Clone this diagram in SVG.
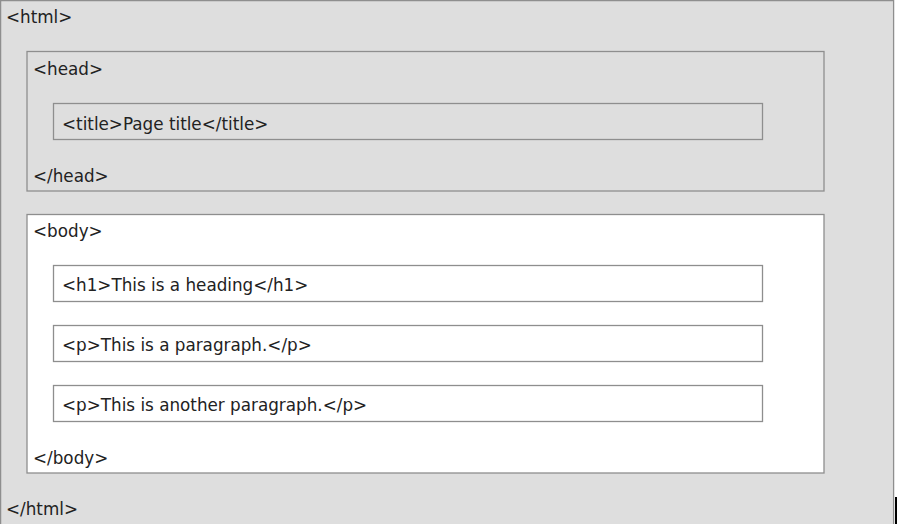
<svg xmlns="http://www.w3.org/2000/svg" width="897" height="524" viewBox="0 0 897 524">
<style>
.box{stroke:#8e8e8e;stroke-width:1.3}
.g{fill:#dedede}
.w{fill:#ffffff}
text{font-family:"DejaVu Sans","Verdana",sans-serif;font-size:16.8px;fill:#222222}
</style>
<rect width="897" height="524" fill="#ffffff"/>
<g id="html">
<rect class="box g" x="0.6" y="0.6" width="893" height="530"/>
<text x="6" y="23">&lt;html&gt;</text>
<text x="6" y="515">&lt;/html&gt;</text>
</g>
<g id="head">
<rect class="box g" x="27" y="51.5" width="797" height="139.5"/>
<text x="33" y="75">&lt;head&gt;</text>
<text x="33" y="182">&lt;/head&gt;</text>
</g>
<g id="title">
<rect class="box g" x="53.5" y="103.5" width="709" height="36"/>
<text x="62" y="130">&lt;title&gt;Page title&lt;/title&gt;</text>
</g>
<g id="body">
<rect class="box w" x="27" y="214.5" width="797" height="258.5"/>
<text x="33" y="237">&lt;body&gt;</text>
<text x="33" y="464">&lt;/body&gt;</text>
</g>
<g id="h1">
<rect class="box w" x="53.5" y="265.5" width="709" height="36"/>
<text x="62" y="291">&lt;h1&gt;This is a heading&lt;/h1&gt;</text>
</g>
<g id="p1">
<rect class="box w" x="53.5" y="325.5" width="709" height="36"/>
<text x="62" y="351">&lt;p&gt;This is a paragraph.&lt;/p&gt;</text>
</g>
<g id="p2">
<rect class="box w" x="53.5" y="385.5" width="709" height="36"/>
<text x="62" y="411">&lt;p&gt;This is another paragraph.&lt;/p&gt;</text>
</g>
<g id="connectors"/>
<rect x="895" y="497" width="2" height="27" fill="#000000"/>
</svg>
